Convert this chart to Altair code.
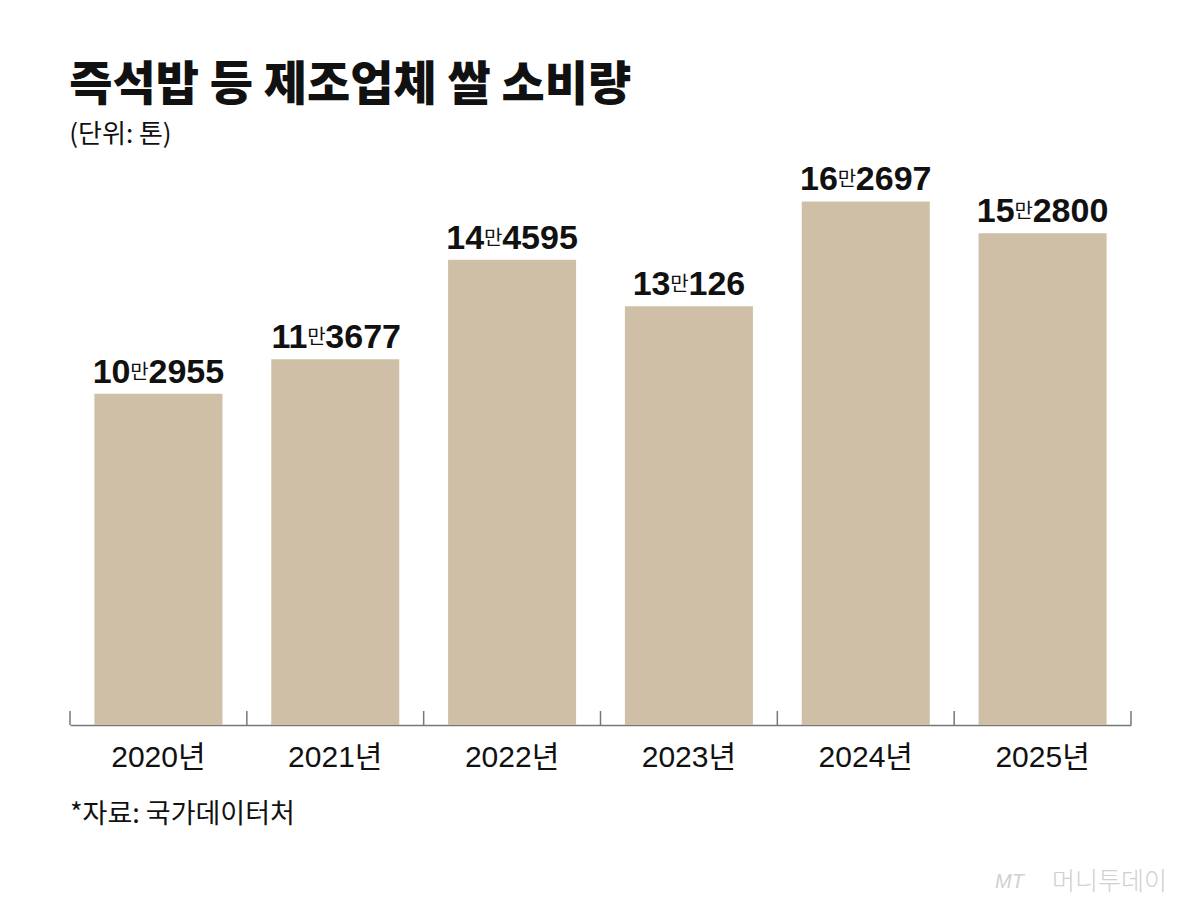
import altair as alt
import pandas as pd

# data
years = ["2020년", "2021년", "2022년", "2023년", "2024년", "2025년"]
values = [102955, 113677, 144595, 130126, 162697, 152800]

title = "즉석밥 등 제조업체 쌀 소비량"
unit_note = "(단위: 톤)"
source = "*자료: 국가데이터처"

KR = "Noto Sans CJK KR"
NUM = "Liberation Sans, Arial"
BAR = "#CFBFA6"
INK = "#111111"
W, H = 1061, 560
PAD_IN, PAD_OUT = 0.276, 0.138

df = pd.DataFrame({"year": years, "value": values})
df["man"] = (df["value"] // 10000).astype(str)
df["rest"] = (df["value"] % 10000).astype(str)

base = alt.Chart(df).encode(
    x=alt.X("year:N", sort=years,
            scale=alt.Scale(paddingInner=PAD_IN, paddingOuter=PAD_OUT),
            axis=alt.Axis(title=None, labelAngle=0, labelFont="Liberation Sans, Noto Sans CJK KR",
                          labelFontSize=30, labelColor=INK, labelPadding=17, ticks=False,
                          domainColor="#777777", domainWidth=1.5)),
    y=alt.Y("value:Q", scale=alt.Scale(domain=[0, 174000]), axis=None),
)

bars = base.mark_bar(color=BAR)

# small upward ticks between the bars
step = W / 6
half_gap = PAD_IN * step / 2
tick_style = dict(color="#777777", strokeWidth=1.5)
ticks_left = base.mark_rule(xOffset=-half_gap, **tick_style).encode(
    x=alt.X("year:N", sort=years, bandPosition=0),
    y=alt.value(H - 14), y2=alt.value(H))
ticks_end = base.transform_filter(alt.datum.year == years[-1]).mark_rule(
    xOffset=half_gap, **tick_style).encode(
    x=alt.X("year:N", sort=years, bandPosition=1),
    y=alt.value(H - 14), y2=alt.value(H))

# value labels: "10" + small "만" + "2955"
DIGIT = 18.9
layers = [bars, ticks_left, ticks_end]
for (np_, nr), _ in df.groupby([df["man"].str.len(), df["rest"].str.len()]):
    sub = base.transform_filter(
        f"length(datum.man) == {np_} && length(datum.rest) == {nr}")
    shift = (np_ - nr) * DIGIT / 2
    layers.append(sub.mark_text(align="right", baseline="alphabetic", dx=shift - 9, dy=-11,
                                font=NUM, fontSize=34, fontWeight="bold", color=INK)
                  .encode(text="man:N"))
    layers.append(sub.mark_text(align="center", baseline="alphabetic", dx=shift, dy=-15,
                                font=KR, fontSize=20, color=INK)
                  .encode(text=alt.value("만")))
    layers.append(sub.mark_text(align="left", baseline="alphabetic", dx=shift + 9, dy=-11,
                                font=NUM, fontSize=34, fontWeight="bold", color=INK)
                  .encode(text="rest:N"))

notes = pd.DataFrame({"t": [source]})
src = alt.Chart(notes).mark_text(align="left", baseline="alphabetic", font=KR,
                                 fontSize=27, color=INK).encode(
    x=alt.value(0), y=alt.value(H + 98), text="t:N")

logo_df = pd.DataFrame({"a": ["MT"], "b": ["머니투데이"]})
logo_a = alt.Chart(logo_df).mark_text(align="left", baseline="alphabetic", font="Liberation Sans",
                                      fontSize=20, fontStyle="italic", color="#d0d0d0").encode(
    x=alt.value(925), y=alt.value(H + 163), text="a:N")
logo_b = alt.Chart(logo_df).mark_text(align="left", baseline="alphabetic", font=KR,
                                      fontSize=25, fontWeight=300, color="#d0d0d0").encode(
    x=alt.value(982), y=alt.value(H + 165), text="b:N")

chart = alt.layer(*layers, src, logo_a, logo_b).properties(
    width=W, height=H, background="white",
    title=alt.TitleParams(title, subtitle=unit_note, anchor="start", font=KR, fontSize=47,
                          fontWeight=900, color=INK, subtitleFont=KR, subtitleFontSize=26,
                          subtitleColor=INK, subtitlePadding=12, offset=14),
    autosize=alt.AutoSizeParams(type="none"),
    padding={"left": 62, "top": 157, "right": 60, "bottom": 180},
).configure_view(stroke=None)

chart.save("out.html", embed_options={"renderer": "svg", "actions": False})
